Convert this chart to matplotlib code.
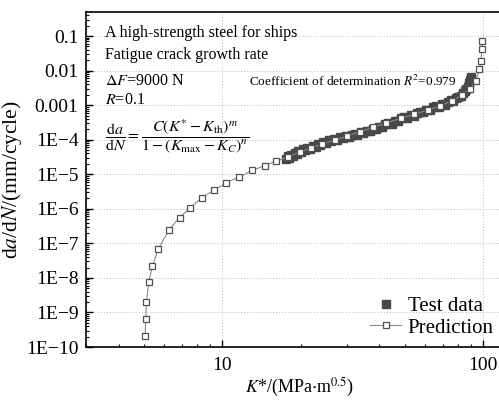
import numpy as np
import matplotlib
matplotlib.use("Agg")
import matplotlib.pyplot as plt
from matplotlib.ticker import FixedLocator, LogLocator, NullFormatter

# Test data (K*, da/dN)
test_k = [17.5, 17.8, 18.1, 18.4, 18.7, 19.0, 19.3, 19.6, 20.0, 20.4, 20.8, 21.2,
          21.7, 22.2, 22.8, 23.3, 23.8, 24.4, 25.0, 25.6, 26.2, 26.9, 27.6, 28.3,
          29.0, 29.8, 30.6, 31.4, 32.2, 33.0, 33.9, 34.8, 35.8, 36.8, 37.8, 38.8,
          39.9, 41.0, 42.2, 43.4, 44.6, 45.9, 47.2, 48.5, 49.9, 51.3, 52.8, 54.3,
          55.8, 57.4, 59.0, 60.7, 62.4, 64.1, 65.9, 67.8, 69.7, 71.7, 73.5, 75.2,
          76.9, 78.6, 80.3, 82.0, 83.6, 85.0, 86.3, 87.4, 88.0, 88.7, 89.3, 89.8, 90.2]
test_rate = [2.7e-5, 3.3e-5, 3.05e-5, 3.6e-5, 3.4e-5, 4.05e-5, 3.85e-5, 4.6e-5, 4.4e-5,
             5.3e-5, 5.0e-5, 5.9e-5, 5.55e-5, 6.7e-5, 6.2e-5, 7.5e-5, 7.0e-5, 8.4e-5,
             7.9e-5, 9.5e-5, 8.95e-5, 1.07e-4, 1.01e-4, 1.18e-4, 1.11e-4, 1.29e-4,
             1.23e-4, 1.38e-4, 1.48e-4, 1.41e-4, 1.64e-4, 1.56e-4, 1.82e-4, 1.73e-4,
             2.11e-4, 2.01e-4, 2.40e-4, 2.28e-4, 2.76e-4, 3.08e-4, 2.94e-4, 3.55e-4,
             3.38e-4, 4.12e-4, 4.52e-4, 4.35e-4, 5.20e-4, 4.98e-4, 6.00e-4, 6.48e-4,
             6.20e-4, 7.45e-4, 7.10e-4, 8.70e-4, 9.40e-4, 8.95e-4, 1.08e-3, 1.03e-3,
             1.26e-3, 1.38e-3, 1.32e-3, 1.61e-3, 1.73e-3, 1.90e-3, 2.25e-3, 2.54e-3,
             3.00e-3, 3.35e-3, 3.95e-3, 4.50e-3, 5.20e-3, 5.90e-3, 6.50e-3]

# Prediction curve
pred_k = [5.055, 5.087, 5.114, 5.225, 5.395, 5.673, 6.256, 6.852, 7.533, 8.355,
          9.259, 10.36, 11.55, 13.05, 14.53, 16.13, 17.86, 19.83, 21.89, 24.18,
          27.04, 30.17, 33.74, 37.86, 42.48, 48.37, 54.43, 61.29, 68.33, 76.0,
          83.27, 88.88, 94.0, 96.94, 98.24, 98.95, 99.56]
pred_rate = [2.04e-10, 6.34e-10, 2.01e-9, 7.83e-9, 2.22e-8, 6.76e-8, 2.51e-7, 5.60e-7,
             1.06e-6, 2.12e-6, 3.39e-6, 5.70e-6, 8.23e-6, 1.29e-5, 1.79e-5, 2.39e-5,
             3.23e-5, 4.36e-5, 5.81e-5, 7.54e-5, 9.71e-5, 1.27e-4, 1.71e-4, 2.26e-4,
             3.02e-4, 4.16e-4, 5.40e-4, 7.18e-4, 9.38e-4, 1.35e-3, 1.95e-3, 2.97e-3,
             5.14e-3, 1.08e-2, 1.89e-2, 4.15e-2, 7.31e-2]

ytick_vals = [1e-10, 1e-9, 1e-8, 1e-7, 1e-6, 1e-5, 1e-4, 1e-3, 1e-2, 1e-1]
ytick_labels = ["1E\u221210", "1E\u22129", "1E\u22128", "1E\u22127", "1E\u22126",
                "1E\u22125", "1E\u22124", "0.001", "0.01", "0.1"]
xtick_vals = [10, 100]
xtick_labels = ["10", "100"]

plt.rcParams['font.family'] = ['Liberation Serif', 'DejaVu Serif']
plt.rcParams['mathtext.fontset'] = 'stix'

fig = plt.figure(figsize=(4.99, 4.0), dpi=100)
ax = fig.add_axes([86/499, 1-347/400, 1-86/499, (347-12)/400])

ax.set_xscale('log')
ax.set_yscale('log')
ax.set_xlim(3.0, 115.2)
ax.set_ylim(1e-10, 0.497)

ax.grid(True, which='major', linestyle=(0, (1, 2)), color='#b8b8b8', linewidth=0.7)
ax.set_axisbelow(True)

ax.plot(test_k, test_rate, linestyle='none', marker='s', markersize=5.4,
        color='#484848', markeredgecolor='#484848', label='Test data', zorder=3)
ax.plot(pred_k, pred_rate, '-', color='#8a8a8a', linewidth=0.8, marker='s',
        markersize=4.0, markerfacecolor='white', markeredgecolor='#505050',
        markeredgewidth=0.9, label='Prediction', zorder=4)

ax.yaxis.set_major_locator(FixedLocator(ytick_vals))
ax.set_yticklabels(ytick_labels)
ax.yaxis.set_minor_locator(LogLocator(base=10, subs=np.arange(2, 10), numticks=20))
ax.yaxis.set_minor_formatter(NullFormatter())
ax.xaxis.set_major_locator(FixedLocator(xtick_vals))
ax.set_xticklabels(xtick_labels)
ax.xaxis.set_minor_locator(LogLocator(base=10, subs=np.arange(2, 10), numticks=20))
ax.xaxis.set_minor_formatter(NullFormatter())

ax.tick_params(which='major', direction='in', length=5, width=1.0, labelsize=14,
               top=False, right=False)
ax.tick_params(axis='y', which='major', pad=5.5)
ax.tick_params(axis='x', which='major', pad=7)
ax.tick_params(which='minor', direction='in', length=2.5, width=0.8,
               top=False, right=False)
ax.spines['right'].set_visible(False)
for s in ['left', 'bottom', 'top']:
    ax.spines[s].set_linewidth(1.2)

ax.set_ylabel(r"d$a$/d$N$/(mm/cycle)", fontsize=15.5, labelpad=1)
ax.set_xlabel(r"$K$*/(MPa$\cdot$m$^{0.5}$)", fontsize=13, labelpad=1)
ax.xaxis.set_label_coords(0.517, -0.085)

tfs = 11.5
ax.text(0.046, 0.937, "A high-strength steel for ships", transform=ax.transAxes,
        fontsize=tfs, va='center', ha='left')
ax.text(0.046, 0.872, "Fatigue crack growth rate", transform=ax.transAxes,
        fontsize=tfs, va='center', ha='left')
ax.text(0.046, 0.794, r"$\Delta F$=9000 N", transform=ax.transAxes,
        fontsize=tfs, va='center', ha='left')
ax.text(0.046, 0.737, r"$R$=0.1", transform=ax.transAxes,
        fontsize=tfs, va='center', ha='left')
ax.text(0.046, 0.630,
        r"$\dfrac{\mathrm{d}a}{\mathrm{d}N}=\dfrac{C(K^{*}-K_{\mathrm{th}})^{m}}{1-(K_{\mathrm{max}}-K_{C})^{n}}$",
        transform=ax.transAxes, fontsize=tfs, va='center', ha='left')
ax.text(0.395, 0.794, r"Coefficient of determination $R^{2}$=0.979",
        transform=ax.transAxes, fontsize=9.5, va='center', ha='left')

leg = ax.legend(loc='lower right', frameon=False, fontsize=15, handlelength=1.5,
                handletextpad=0.3, labelspacing=0.1, borderaxespad=0.3,
                bbox_to_anchor=(1.022, -0.016))

fig.savefig("out.png", dpi=100)
